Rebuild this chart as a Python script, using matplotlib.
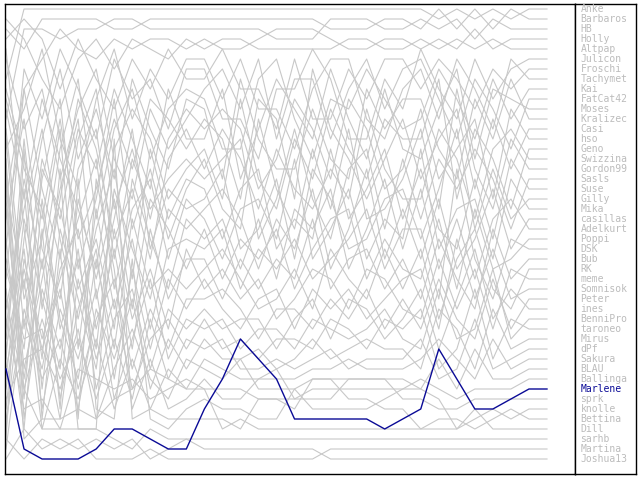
import matplotlib.pyplot as plt

# final standings, top to bottom
players = ['Anke', 'Barbaros', 'HB', 'Holly', 'Altpap', 'Julicon', 'Froschi',
           'Tachymet', 'Kai', 'FatCat42', 'Moses', 'Kralizec', 'Casi', 'hso',
           'Geno', 'Swizzina', 'Gordon99', 'Sasls', 'Suse', 'Gilly', 'Mika',
           'casillas', 'Adelkurt', 'Poppi', 'DSK', 'Bub', 'RK', 'meme',
           'Somnisok', 'Peter', 'ines', 'BenniPro', 'taroneo', 'Mirus', 'dPf',
           'Sakura', 'BLAU', 'Ballinga', 'Marlene', 'sprk', 'knolle', 'Bettina',
           'Dill', 'sarhb', 'Martina', 'Joshua13']
highlight = 'Marlene'

# rank of every player after each of the 31 rounds (same order as players)
ranks = [
    [8,1,1,1,1,1,1,1,1,1,1, 1,1,1,1,1,1,1,1,1,1,1,1, 1,2,1,2,1,2,1,1],
    [3,5,2,2,2,2,3,3,2,2,2, 2,2,2,2,2,2,2,3,3,3,2,2, 3,1,3,1,3,1,2,2],
    [12,3,3,4,3,3,2,2,3,3,3, 3,3,3,3,4,4,4,2,2,2,3,3, 2,3,2,4,2,3,3,3],
    [20,9,6,3,5,6,4,5,4,4,5, 4,5,5,4,3,3,3,4,5,5,4,4, 5,4,5,3,5,4,4,4],
    [2,4,8,11,6,4,7,4,5,6,4, 5,4,4,5,5,5,5,5,4,4,5,5, 4,5,4,5,4,5,5,5],
    [25,7,12,5,9,14,6,10,8,13,7, 7,12,12,16,9,9,5,8,14,14,8,11, 5,9,12,6,10,7,6,6],
    [4,2,4,9,4,8,11,6,9,5,8, 8,5,9,9,13,6,12,12,7,10,6,6, 9,6,8,11,7,9,7,7],
    [15,11,5,14,19,10,5,12,7,10,6, 6,10,6,11,11,15,9,6,6,12,14,9, 7,12,6,9,13,6,8,8],
    [33,18,27,15,8,22,13,9,16,11,9, 10,15,15,8,6,12,16,10,11,7,10,13, 12,7,10,14,8,12,9,9],
    [6,13,9,18,11,7,16,20,11,15,12, 9,7,11,6,14,8,8,14,9,6,11,7, 6,10,14,8,11,15,10,10],
    [19,29,16,22,13,17,9,14,19,9,14, 14,9,18,13,8,11,14,7,12,16,9,15, 16,11,7,16,9,10,11,11],
    [41,24,14,7,16,11,18,8,13,17,10, 11,18,8,14,17,17,11,16,18,9,13,10, 10,15,18,10,14,8,12,12],
    [9,16,22,12,24,19,12,17,10,12,15, 12,14,20,10,12,20,7,13,16,20,16,12, 18,14,11,19,12,17,13,13],
    [28,9,19,26,14,9,21,15,22,14,11, 13,11,13,19,16,10,13,18,10,13,19,17, 11,18,15,12,20,11,14,14],
    [11,20,10,16,21,27,15,11,14,20,17, 15,20,10,18,21,14,18,11,15,18,12,14, 14,8,20,13,16,21,15,15],
    [36,14,31,20,10,15,24,19,26,16,13, 17,13,16,21,15,19,21,17,20,11,17,20, 20,13,16,22,15,13,16,16],
    [14,33,18,10,27,20,10,23,17,24,19, 16,21,23,12,19,23,15,21,13,22,21,18, 13,21,9,17,21,14,17,17],
    [22,12,25,30,17,13,26,16,21,18,16, 18,16,14,24,20,13,20,24,17,15,23,16, 22,16,19,15,18,23,18,18],
    [31,21,13,24,32,23,17,28,15,22,18, 19,24,19,17,25,22,24,15,22,19,15,22, 17,23,25,18,24,16,19,19],
    [17,37,28,19,12,30,22,13,25,19,21, 20,17,25,23,18,26,17,20,25,24,20,19, 24,19,13,23,17,22,20,20],
    [43,26,34,28,22,16,29,21,18,26,20, 22,26,21,20,24,16,26,23,19,26,22,24, 15,25,21,20,26,18,21,21],
    [10,17,21,33,26,35,19,25,30,21,23, 21,19,22,27,22,25,19,27,23,17,26,21, 26,20,27,24,19,25,22,22],
    [26,35,17,21,29,24,33,18,24,29,22, 24,22,27,22,28,21,23,19,27,23,18,25, 19,27,22,28,22,20,23,23],
    [38,22,30,37,20,28,20,31,20,23,27, 23,28,24,26,23,29,25,22,21,28,24,27, 28,22,29,21,27,26,24,24],
    [13,30,24,13,35,21,31,24,33,25,24, 25,23,29,25,27,24,28,26,24,21,27,23, 23,30,17,26,30,24,25,25],
    [45,31,37,27,23,33,25,35,23,30,26, 26,30,26,29,26,28,22,29,26,25,29,26, 30,24,28,31,23,28,26,26],
    [24,40,20,32,38,26,35,22,29,27,29, 27,25,28,31,30,27,31,25,28,30,25,29, 25,32,26,23,29,31,27,27],
    [34,19,39,23,30,37,23,32,27,33,25, 29,27,30,28,32,30,27,28,31,27,28,31, 32,26,31,27,33,27,28,28],
    [21,38,26,40,31,25,38,27,35,28,31, 28,31,33,30,29,33,29,31,29,32,30,28, 27,33,24,30,25,30,29,29],
    [39,27,35,29,39,32,28,37,31,35,30, 30,29,31,34,31,31,33,30,32,29,33,30, 33,28,32,34,28,33,30,30],
    [16,42,29,35,25,39,32,29,37,31,33, 31,33,32,32,35,32,30,34,30,31,34,32, 29,35,30,25,32,29,31,31],
    [35,25,41,31,36,29,40,34,28,36,32, 33,32,35,33,33,35,32,33,34,33,31,34, 35,29,34,33,27,34,32,32],
    [27,34,33,42,28,36,30,39,34,32,35, 32,35,34,36,34,34,35,32,33,35,32,33, 31,37,35,29,36,32,33,33],
    [42,32,38,34,41,31,36,30,39,34,37, 34,36,36,35,37,36,34,36,35,34,35,35, 37,31,33,37,31,35,34,34],
    [30,39,32,38,34,40,34,40,32,38,34, 35,34,37,37,36,37,36,35,37,36,36,36, 34,38,37,32,37,36,35,35],
    [37,28,43,36,40,34,41,36,41,37,39, 36,37,38,38,38,38,37,37,36,37,37,37, 36,34,36,38,34,37,36,36],
    [40,36,35,39,33,42,37,33,38,40,36, 37,38,36,39,39,39,38,38,38,38,38,38, 39,36,39,35,38,38,37,37],
    [32,41,40,43,37,38,39,38,40,39,38, 39,39,39,40,40,40,39,39,39,39,39,39, 38,39,40,39,39,39,38,38],
    [37,45,46,46,46,45,43,43,44,45,45, 41,38,34,36,38,42,42,42,42,42,43,42, 41,35,38,41,41,40,39,39],
    [5,23,36,17,42,18,27,41,36,41,40, 38,40,40,38,37,40,40,40,38,38,38,40, 40,41,41,40,40,40,40,40],
    [29,43,23,41,18,41,42,26,42,43,41, 40,41,41,42,42,39,41,41,41,41,40,39, 39,40,43,42,41,42,41,41],
    [44,15,42,25,43,43,14,42,41,42,42, 42,42,43,40,40,41,38,38,40,40,41,41, 43,42,42,43,42,41,42,42],
    [18,44,42,42,41,42,40,39,37,38,39, 39,43,42,43,43,43,43,43,43,43,43,43, 43,43,43,41,43,43,43,43],
    [20,39,43,43,43,43,44,45,43,44,44, 44,44,44,44,44,44,44,44,44,44,44,44, 44,44,44,44,44,44,44,44],
    [44,46,44,45,44,46,46,46,45,46,46, 46,46,46,46,46,46,46,45,45,45,45,45, 45,45,45,45,45,45,45,45],
    [46,43,45,44,45,44,45,44,46,45,44, 45,45,45,45,45,45,45,46,46,46,46,46, 46,46,46,46,46,46,46,46],
]

rounds = list(range(31))

W, H = 640, 480
step = 541 / 30  # pixels between rounds

fig = plt.figure(figsize=(W / 100, H / 100), dpi=100)

ax = fig.add_axes([5 / W, 6 / H, 570 / W, 470 / H])
ax.set_xlim(-1 / step, 30 + 28 / step)
ax.set_ylim(47.5, 0.5)
for name, r in zip(players, ranks):
    if name != highlight:
        ax.plot(rounds, r, color='#c8c8c8', lw=0.8)
ax.plot(rounds, ranks[players.index(highlight)], color='#0a0a96', lw=1.0, zorder=3)
ax.set_xticks([])
ax.set_yticks([])
for s in ax.spines.values():
    s.set_color('black')
    s.set_linewidth(1.0)

lab = fig.add_axes([575 / W, 6 / H, 61 / W, 470 / H])
lab.set_xlim(0, 61)
lab.set_ylim(47.5, 0.5)
lab.set_xticks([])
lab.set_yticks([])
for s in lab.spines.values():
    s.set_color('black')
    s.set_linewidth(1.0)
for i, name in enumerate(players):
    c = '#0a0a96' if name == highlight else '#bcbcbc'
    lab.text(5.5, i + 1, name, va='center', ha='left', color=c,
             fontfamily='DejaVu Sans Mono', fontsize=7)

fig.savefig('out.png', dpi=100)
